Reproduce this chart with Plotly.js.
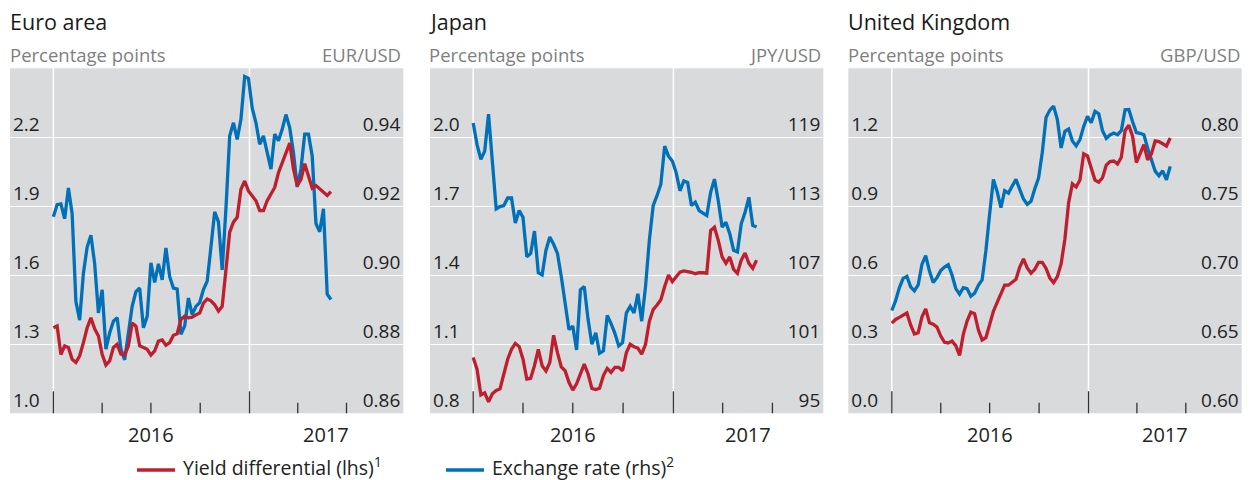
<!DOCTYPE html>
<html>
<head>
<meta charset="utf-8">
<script src="https://cdn.plot.ly/plotly-3.0.1.min.js"></script>
<style>
html, body { margin: 0; padding: 0; background: #ffffff; }
#chart { width: 1252px; height: 480px; }
</style>
</head>
<body>
<div id="chart"></div>
<script>
// ---------------- data ----------------
const panelTitles = ['Euro area', 'Japan', 'United Kingdom'];
const leftUnit = 'Percentage points';
const fxUnits = ['EUR/USD', 'JPY/USD', 'GBP/USD'];
const firstWeek = '2016-01-01';   // weekly observations

const euroYield = [1.372, 1.380, 1.255, 1.293, 1.286, 1.235, 1.221, 1.250, 1.307, 1.372,
  1.415, 1.367, 1.336, 1.257, 1.210, 1.228, 1.286, 1.300, 1.257, 1.253,
  1.293, 1.393, 1.379, 1.293, 1.286, 1.278, 1.253, 1.271, 1.314, 1.319,
  1.296, 1.307, 1.339, 1.346, 1.408, 1.422, 1.415, 1.418, 1.428, 1.436,
  1.479, 1.497, 1.489, 1.472, 1.444, 1.465, 1.623, 1.788, 1.831, 1.852,
  1.974, 2.010, 1.967, 1.946, 1.924, 1.881, 1.881, 1.924, 1.953, 1.982,
  2.046, 2.089, 2.132, 2.175, 2.062, 1.990, 2.017, 2.085, 2.032, 1.979,
  1.990, 1.974, 1.960, 1.947, 1.964];
const euroFx = [0.9170, 0.9205, 0.9207, 0.9164, 0.9253, 0.9178, 0.8924, 0.8870, 0.9006, 0.9082,
  0.9116, 0.9034, 0.8891, 0.8958, 0.8786, 0.8833, 0.8867, 0.8877, 0.8786, 0.8755,
  0.8833, 0.8910, 0.8953, 0.8963, 0.8848, 0.8881, 0.9036, 0.8979, 0.9033, 0.8987,
  0.9079, 0.8996, 0.8963, 0.8960, 0.8829, 0.8853, 0.8934, 0.8886, 0.8910, 0.8921,
  0.8959, 0.8983, 0.9082, 0.9184, 0.9155, 0.9016, 0.9193, 0.9404, 0.9442, 0.9394,
  0.9452, 0.9576, 0.9571, 0.9485, 0.9442, 0.9380, 0.9404, 0.9356, 0.9308, 0.9409,
  0.9390, 0.9423, 0.9466, 0.9428, 0.9356, 0.9256, 0.9308, 0.9409, 0.9409, 0.9346,
  0.9150, 0.9126, 0.9193, 0.8945, 0.8930];

const japanYield = [1.043, 0.992, 0.880, 0.889, 0.850, 0.885, 0.899, 0.906, 0.971, 1.035,
  1.078, 1.104, 1.090, 1.035, 0.949, 0.952, 1.007, 1.078, 1.007, 0.984,
  1.021, 1.139, 1.064, 1.002, 0.985, 0.935, 0.901, 0.928, 0.971, 1.014,
  0.971, 0.908, 0.903, 0.909, 0.964, 0.995, 0.978, 1.000, 1.000, 0.985,
  1.064, 1.100, 1.089, 1.083, 1.057, 1.100, 1.200, 1.251, 1.271, 1.294,
  1.351, 1.401, 1.373, 1.394, 1.414, 1.419, 1.417, 1.413, 1.407, 1.411,
  1.411, 1.409, 1.595, 1.609, 1.552, 1.480, 1.452, 1.480, 1.426, 1.409,
  1.466, 1.497, 1.452, 1.430, 1.466];
const japanFx = [120.24, 118.37, 117.08, 117.80, 121.01, 116.93, 112.77, 112.97, 113.06, 113.72,
  113.72, 111.54, 112.63, 112.05, 108.61, 108.90, 110.85, 107.23, 107.03, 109.18,
  110.33, 109.70, 108.90, 106.89, 104.59, 102.29, 102.58, 100.51, 105.74, 106.02,
  103.15, 101.00, 102.00, 100.22, 100.43, 103.50, 102.80, 101.95, 100.86, 101.14,
  103.73, 104.30, 103.73, 105.39, 103.01, 106.02, 110.04, 113.06, 113.92, 114.92,
  118.23, 117.36, 116.93, 115.93, 114.35, 115.21, 115.07, 113.06, 113.35, 112.63,
  112.40, 112.20, 114.21, 115.36, 113.49, 111.19, 111.62, 110.62, 109.18, 109.04,
  111.48, 112.48, 113.78, 111.34, 111.19];

const ukYield = [0.392, 0.408, 0.417, 0.427, 0.436, 0.384, 0.345, 0.350, 0.418, 0.454,
  0.394, 0.387, 0.375, 0.336, 0.309, 0.306, 0.314, 0.294, 0.252, 0.343,
  0.401, 0.440, 0.433, 0.363, 0.319, 0.329, 0.388, 0.444, 0.482, 0.524,
  0.557, 0.557, 0.571, 0.583, 0.636, 0.671, 0.632, 0.609, 0.626, 0.656,
  0.656, 0.630, 0.588, 0.568, 0.594, 0.650, 0.757, 0.916, 0.998, 0.984,
  1.014, 1.128, 1.119, 1.064, 1.014, 1.005, 1.024, 1.079, 1.095, 1.097,
  1.084, 1.113, 1.230, 1.252, 1.204, 1.090, 1.126, 1.168, 1.102, 1.128,
  1.184, 1.181, 1.172, 1.162, 1.197];
const ukFx = [0.6745, 0.6815, 0.6909, 0.6978, 0.6993, 0.6916, 0.6887, 0.6930, 0.7079, 0.7142,
  0.7031, 0.6947, 0.6983, 0.7034, 0.7060, 0.7077, 0.7002, 0.6904, 0.6863, 0.6911,
  0.6904, 0.6849, 0.6870, 0.6928, 0.6966, 0.7178, 0.7445, 0.7695, 0.7606, 0.7490,
  0.7613, 0.7596, 0.7647, 0.7695, 0.7623, 0.7553, 0.7514, 0.7536, 0.7627, 0.7704,
  0.7892, 0.8144, 0.8197, 0.8226, 0.8128, 0.7923, 0.8043, 0.8060, 0.7974, 0.7938,
  0.7983, 0.8079, 0.8152, 0.8106, 0.8188, 0.8171, 0.8048, 0.7993, 0.8017, 0.8031,
  0.8019, 0.8048, 0.8200, 0.8202, 0.8113, 0.8034, 0.8029, 0.8019, 0.7921, 0.7832,
  0.7755, 0.7721, 0.7757, 0.7692, 0.7789];

const euroLeftTicks = [1.0, 1.3, 1.6, 1.9, 2.2];
const euroLeftLabels = ['1.0', '1.3', '1.6', '1.9', '2.2'];
const euroRightTicks = [0.86, 0.88, 0.90, 0.92, 0.94];
const euroRightLabels = ['0.86', '0.88', '0.90', '0.92', '0.94'];
const japanLeftTicks = [0.8, 1.1, 1.4, 1.7, 2.0];
const japanLeftLabels = ['0.8', '1.1', '1.4', '1.7', '2.0'];
const japanRightTicks = [95, 101, 107, 113, 119];
const japanRightLabels = ['95', '101', '107', '113', '119'];
const ukLeftTicks = [0.0, 0.3, 0.6, 0.9, 1.2];
const ukLeftLabels = ['0.0', '0.3', '0.6', '0.9', '1.2'];
const ukRightTicks = [0.60, 0.65, 0.70, 0.75, 0.80];
const ukRightLabels = ['0.60', '0.65', '0.70', '0.75', '0.80'];

const yearStarts = ['2016-01-01', '2017-01-01'];
const yearLabels = ['2016', '2017'];
const quarterTicks = ['2016-04-01', '2016-07-01', '2016-10-01', '2017-04-01', '2017-07-01'];

const seriesNames = ['Yield differential (lhs)', 'Exchange rate (rhs)'];
const legendSup = ['1', '2'];

// ---------------- styling / layout geometry ----------------
const W = 1252, H = 480;
const RED = '#bf1e2e', BLUE = '#0070b8';
const BG = 'rgb(217,218,220)';
const FONT = 'Open Sans, Noto Sans, sans-serif';
const plotTop = 68.3, plotBottom = 413.3;
const plotLeft = [10, 430, 848.3];
const plotRight = [403.3, 823.3, 1241.7];
const xRanges = [['2015-10-12', '2017-10-15'], ['2015-10-14', '2017-10-02'], ['2015-10-12', '2017-10-13']];
const leftRanges = [[1.0, 2.5], [0.8, 2.3], [0.0, 1.5]];
const rightRanges = [[0.86, 0.96], [95, 125], [0.60, 0.85]];

const panelData = [
  {yl: euroYield, yr: euroFx, lt: euroLeftTicks, ll: euroLeftLabels, rt: euroRightTicks, rl: euroRightLabels},
  {yl: japanYield, yr: japanFx, lt: japanLeftTicks, ll: japanLeftLabels, rt: japanRightTicks, rl: japanRightLabels},
  {yl: ukYield, yr: ukFx, lt: ukLeftTicks, ll: ukLeftLabels, rt: ukRightTicks, rl: ukRightLabels}
];

function weeklyDates(start, n) {
  const out = [];
  const t0 = Date.parse(start + 'T00:00:00Z');
  for (let i = 0; i < n; i++) out.push(new Date(t0 + i * 7 * 86400000).toISOString().slice(0, 10));
  return out;
}
function midDate(a, b) {
  const t = (Date.parse(a + 'T00:00:00Z') + Date.parse(b + 'T00:00:00Z')) / 2;
  return new Date(t).toISOString().slice(0, 10);
}
const px = v => v / W;
const py = v => 1 - v / H;

const traces = [];
const layout = {
  width: W, height: H,
  margin: {l: 0, r: 0, t: 0, b: 0, pad: 0},
  paper_bgcolor: '#ffffff',
  plot_bgcolor: BG,
  showlegend: false,
  font: {family: FONT, size: 19, color: '#222222'},
  shapes: [],
  annotations: []
};

const yDomain = [py(plotBottom), py(plotTop)];
const tickFont = {family: FONT, size: 19, color: '#222222'};

panelData.forEach((p, k) => {
  const xId = k === 0 ? 'x' : 'x' + (k + 1);
  const yMainNum = 2 * k + 1, yLeftNum = 2 * k + 2;
  const yMainId = yMainNum === 1 ? 'y' : 'y' + yMainNum;
  const yLeftId = 'y' + yLeftNum;
  const xKey = k === 0 ? 'xaxis' : 'xaxis' + (k + 1);
  const yMainKey = yMainNum === 1 ? 'yaxis' : 'yaxis' + yMainNum;
  const yLeftKey = 'yaxis' + yLeftNum;
  const dates = weeklyDates(firstWeek, p.yl.length);

  traces.push({x: dates, y: p.yr, xaxis: xId, yaxis: yMainId, type: 'scatter', mode: 'lines',
    name: seriesNames[1], line: {color: BLUE, width: 3.3, shape: 'linear'}, hoverinfo: 'skip'});
  traces.push({x: dates, y: p.yl, xaxis: xId, yaxis: yLeftId, type: 'scatter', mode: 'lines',
    name: seriesNames[0], line: {color: RED, width: 3.3, shape: 'linear'}, hoverinfo: 'skip'});

  layout[xKey] = {
    type: 'date', domain: [px(plotLeft[k]), px(plotRight[k])], range: xRanges[k],
    anchor: yMainId, showgrid: false, zeroline: false, showline: false,
    ticks: '', showticklabels: false, fixedrange: true
  };
  layout[yMainKey] = {
    domain: yDomain, range: rightRanges[k], anchor: xId, side: 'right',
    tickmode: 'array', tickvals: p.rt, ticktext: p.rl,
    ticklabelposition: 'inside top', ticks: '', showgrid: false, zeroline: false,
    showline: false, tickfont: tickFont, fixedrange: true
  };
  layout[yLeftKey] = {
    range: leftRanges[k], anchor: xId, side: 'left', overlaying: yMainId,
    tickmode: 'array', tickvals: p.lt, ticktext: p.ll,
    ticklabelposition: 'inside top', ticks: '', showgrid: true, gridcolor: '#ffffff',
    gridwidth: 1.5, zeroline: false, showline: false, tickfont: tickFont, fixedrange: true
  };

  // vertical year lines + tick marks
  yearStarts.forEach(d => {
    layout.shapes.push({type: 'line', xref: xId, yref: yMainId + ' domain', x0: d, x1: d, y0: 0, y1: 1,
      layer: 'below', line: {color: '#ffffff', width: 1.5}});
    layout.shapes.push({type: 'line', xref: xId, yref: yMainId + ' domain', x0: d, x1: d, y0: 0, y1: 22 / 345,
      layer: 'below', line: {color: '#333333', width: 1.3}});
  });
  quarterTicks.forEach(d => {
    layout.shapes.push({type: 'line', xref: xId, yref: yMainId + ' domain', x0: d, x1: d, y0: 0, y1: 10.5 / 345,
      layer: 'below', line: {color: '#333333', width: 1.3}});
  });

  // year labels, centred on the visible part of each year
  const labelPos = [midDate(yearStarts[0], yearStarts[1]), midDate(yearStarts[1], xRanges[k][1])];
  labelPos.forEach((d, j) => {
    layout.annotations.push({xref: xId, yref: 'paper', x: d, y: py(434), text: yearLabels[j],
      showarrow: false, xanchor: 'center', yanchor: 'middle', borderpad: 0, borderwidth: 0,
      font: {family: FONT, size: 20, color: '#222222'}});
  });

  // titles and units
  layout.annotations.push({xref: 'paper', yref: 'paper', x: px(plotLeft[k] - 0.5), y: py(21.5),
    text: panelTitles[k], showarrow: false, xanchor: 'left', yanchor: 'middle', borderpad: 0, borderwidth: 0,
    font: {family: FONT, size: 21.5, color: '#1a1a1a'}});
  layout.annotations.push({xref: 'paper', yref: 'paper', x: px(plotLeft[k] - 0.5), y: py(54.5),
    text: leftUnit, showarrow: false, xanchor: 'left', yanchor: 'middle', borderpad: 0, borderwidth: 0,
    font: {family: FONT, size: 18.5, color: '#7f7f7f'}});
  layout.annotations.push({xref: 'paper', yref: 'paper', x: px(plotRight[k] - 2), y: py(54.5),
    text: fxUnits[k], showarrow: false, xanchor: 'right', yanchor: 'middle', borderpad: 0, borderwidth: 0,
    font: {family: FONT, size: 18.5, color: '#7f7f7f'}});
});

// legend drawn as line samples + text
const legendLineX = [[137, 175], [446, 484]];
const legendTextX = [183, 492];
const legendColors = [RED, BLUE];
seriesNames.forEach((nm, j) => {
  layout.shapes.push({type: 'line', xref: 'paper', yref: 'paper',
    x0: px(legendLineX[j][0]), x1: px(legendLineX[j][1]), y0: py(470), y1: py(470),
    line: {color: legendColors[j], width: 3.5}});
  layout.annotations.push({xref: 'paper', yref: 'paper', x: px(legendTextX[j]), y: py(466),
    text: nm + '<sup>' + legendSup[j] + '</sup>', showarrow: false, xanchor: 'left', yanchor: 'middle',
    borderpad: 0, borderwidth: 0, font: {family: FONT, size: 19.5, color: '#222222'}});
});

Plotly.newPlot('chart', traces, layout, {staticPlot: true, displayModeBar: false});
</script>
</body>
</html>
